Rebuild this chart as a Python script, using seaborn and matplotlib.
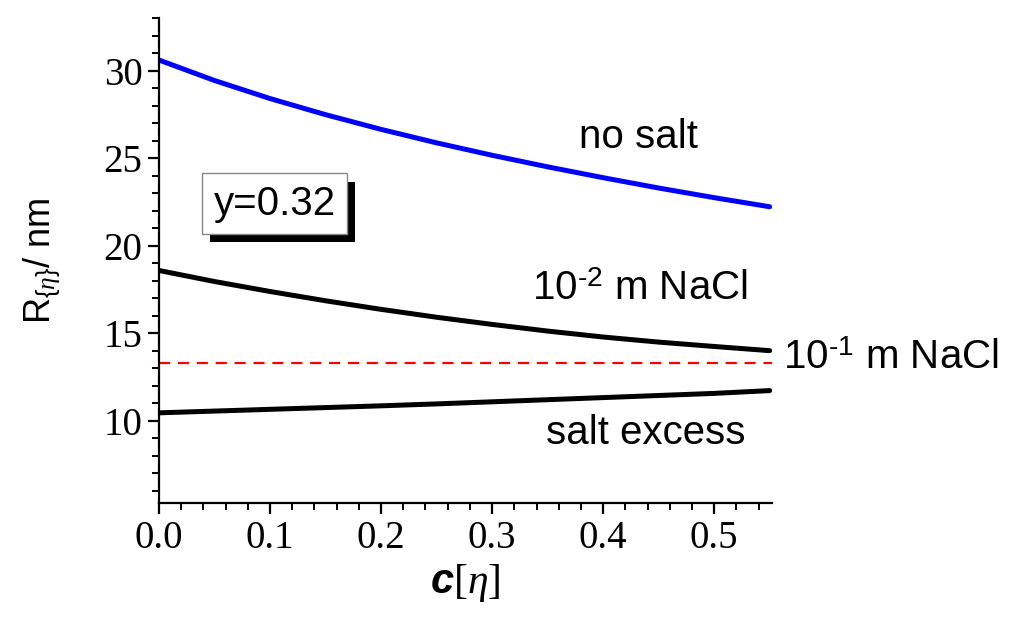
import matplotlib
matplotlib.use("Agg")
import matplotlib.pyplot as plt
import matplotlib.patheffects as pe
from matplotlib.ticker import MultipleLocator, FormatStrFormatter
import seaborn as sns
import pandas as pd

# values
conc = [0.0, 0.05, 0.10, 0.15, 0.20, 0.25, 0.30, 0.35, 0.40, 0.45, 0.50, 0.55]
r_no_salt = [30.6, 29.43, 28.4, 27.48, 26.64, 25.87, 25.16, 24.5, 23.88, 23.29, 22.74, 22.22]
r_nacl_2 = [18.58, 17.95, 17.38, 16.85, 16.36, 15.91, 15.5, 15.12, 14.78, 14.49, 14.24, 14.0]
r_salt_excess = [10.45, 10.55, 10.65, 10.75, 10.85, 10.96, 11.08, 11.2, 11.32, 11.44, 11.56, 11.72]
r_nacl_1 = 13.27

sns.set_style("ticks")
plt.rcParams["font.family"] = ["Liberation Sans", "DejaVu Sans"]
plt.rcParams["text.color"] = "black"
plt.rcParams["axes.labelcolor"] = "black"
plt.rcParams["xtick.color"] = "black"
plt.rcParams["ytick.color"] = "black"
plt.rcParams["axes.edgecolor"] = "black"
plt.rcParams["mathtext.fontset"] = "custom"
plt.rcParams["mathtext.rm"] = "Liberation Sans"
plt.rcParams["mathtext.it"] = "Liberation Serif:italic"
plt.rcParams["mathtext.sf"] = "Liberation Sans:italic:bold"
plt.rcParams["mathtext.tt"] = "Liberation Serif"

df = pd.DataFrame({"c": conc, "no salt": r_no_salt, "nacl2": r_nacl_2, "excess": r_salt_excess})

fig = plt.figure(figsize=(10.09, 6.19), dpi=100)
ax = fig.add_axes([0.1576, 0.1874, 0.6074, 0.7835])

sns.lineplot(data=df, x="c", y="no salt", color="#0000ff", lw=3.6, ax=ax)
sns.lineplot(data=df, x="c", y="nacl2", color="black", lw=3.6, ax=ax)
sns.lineplot(data=df, x="c", y="excess", color="black", lw=3.6, ax=ax)
ax.axhline(r_nacl_1, color="red", lw=1.6, ls=(0, (5, 3.5)))

ax.set_xlim(0, 0.552)
ax.set_ylim(5.3, 33)
ax.xaxis.set_major_locator(MultipleLocator(0.1))
ax.xaxis.set_minor_locator(MultipleLocator(0.02))
ax.yaxis.set_minor_locator(MultipleLocator(1))
ax.set_yticks([10, 15, 20, 25, 30])
ax.xaxis.set_major_formatter(FormatStrFormatter("%.1f"))

for s in ["top", "right"]:
    ax.spines[s].set_visible(False)
for s in ["left", "bottom"]:
    ax.spines[s].set_linewidth(1.6)
ax.tick_params(which="major", length=8, width=1.6, labelsize=28,
               labelfontfamily="Liberation Serif", pad=4)
ax.tick_params(which="minor", length=5, width=1.4)

ax.set_xlabel(r"$\mathsf{c}\mathtt{[}\eta\mathtt{]}$", fontsize=30, labelpad=4)
ax.set_ylabel(r"R$_{\{\eta\}}$/ nm", fontsize=26, labelpad=30)

ax.text(0.432, 26.2, "no salt", fontsize=29, ha="center", va="center")
ax.text(0.433, 17.5, r"10$^{\text{-}2}$ m NaCl", fontsize=29, ha="center", va="center")
ax.text(0.659, 13.6, r"10$^{\text{-}1}$ m NaCl", fontsize=29, ha="center", va="center", clip_on=False)
ax.text(0.438, 9.3, "salt excess", fontsize=29, ha="center", va="center")

t = ax.text(0.104, 22.4, "y=0.32", fontsize=29, ha="center", va="center",
            bbox=dict(boxstyle="square,pad=0.28", fc="white", ec="#888888", lw=1))
t.get_bbox_patch().set_path_effects([
    pe.SimplePatchShadow(offset=(6, -6), shadow_rgbFace="black", alpha=1.0),
    pe.Normal()])

fig.savefig("out.png", dpi=100)
